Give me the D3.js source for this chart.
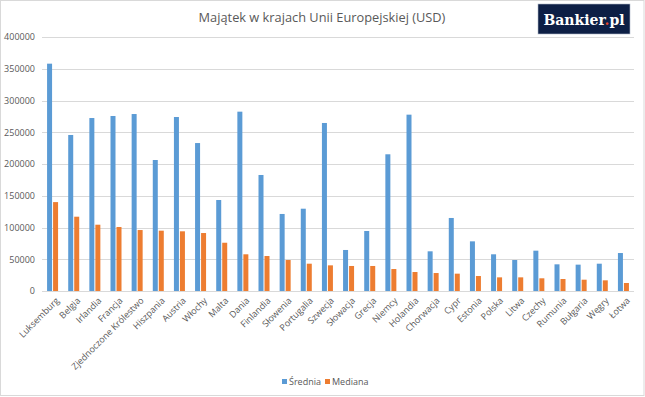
<!DOCTYPE html>
<html>
<head>
<meta charset="utf-8">
<script src="https://cdn.jsdelivr.net/npm/d3@7"></script>
<style>
  body { margin: 0; background: #fff; }
  text { font-family: "Open Sans", "Noto Sans", sans-serif; }
</style>
</head>
<body>
<div id="chart"></div>
<script>
// data
var countries = ["Luksemburg","Belgia","Irlandia","Francja","Zjednoczone Królestwo","Hiszpania","Austria","Włochy","Malta","Dania","Finlandia","Słowenia","Portugalia","Szwecja","Słowacja","Grecja","Niemcy","Holandia","Chorwacja","Cypr","Estonia","Polska","Litwa","Czechy","Rumunia","Bułgaria","Węgry","Łotwa"];
var srednia = [358000,245700,272400,275600,278700,206300,274000,233000,143300,282400,182700,121300,129600,264600,64600,94500,215300,277700,62500,115000,78200,57800,48800,63500,42000,41500,43000,59800];
var mediana = [140000,117000,104400,100800,96000,95000,94000,91300,76000,57800,55100,48800,43000,40400,39400,39400,34600,29900,28300,27300,23600,21500,21500,20000,18900,17800,16800,12600];
var yTicks = [0,50000,100000,150000,200000,250000,300000,350000,400000];
var seriesNames = ["Średnia","Mediana"];
var colors = ["#5b9bd5","#ed7d31"];

var W = 645, H = 397;
var svg = d3.select("#chart").append("svg").attr("width", W).attr("height", H);

// chart border
svg.append("rect").attr("x",0.5).attr("y",0.5).attr("width",W-1.5).attr("height",H-2)
    .attr("fill","#fff").attr("stroke","#d9d9d9");

var pLeft = 42, pRight = 634, pTop = 37, pBottom = 291;

var x = d3.scaleBand().domain(countries).range([pLeft, pRight]).paddingInner(0).paddingOuter(0);
var y = d3.scaleLinear().domain([0, 400000]).range([pBottom, pTop]);

// gridlines
svg.append("g").selectAll("line").data(yTicks).enter().append("line")
    .attr("x1", pLeft).attr("x2", pRight)
    .attr("y1", function(d){ return Math.round(y(d)) + 0.5; })
    .attr("y2", function(d){ return Math.round(y(d)) + 0.5; })
    .attr("stroke", "#d9d9d9").attr("stroke-width", 1);

// y axis labels
var yAxis = d3.axisLeft(y).tickValues(yTicks).tickSize(0).tickPadding(0).tickFormat(d3.format("d"));
var ya = svg.append("g").attr("transform", "translate(35,0)").call(yAxis);
ya.select(".domain").remove();
ya.selectAll("text").attr("fill","#595959").style("font-size","9px");

// bars
var barW = 5;
[srednia, mediana].forEach(function(vals, s){
    svg.append("g").selectAll("rect").data(vals).enter().append("rect")
        .attr("x", function(d,i){ return x(countries[i]) + x.bandwidth()/2 - 5.5 + s*6; })
        .attr("y", function(d){ return y(d); })
        .attr("width", barW)
        .attr("height", function(d){ return pBottom - y(d); })
        .attr("fill", colors[s]);
});

// x axis labels
var xa = svg.append("g").attr("transform", "translate(0," + pBottom + ")")
    .call(d3.axisBottom(x).tickSize(0).tickPadding(0));
xa.select(".domain").remove();
xa.selectAll("text")
    .attr("fill","#595959").style("font-size","9px")
    .attr("text-anchor","end")
    .attr("y", 0).attr("dy", "0.35em")
    .attr("transform","translate(5,8) rotate(-45)");

// title
svg.append("text").attr("x", 322).attr("y", 22).attr("text-anchor","middle")
    .attr("fill","#595959").style("font-size","12.8px")
    .text("Majątek w krajach Unii Europejskiej (USD)");

// logo
svg.append("rect").attr("x",538).attr("y",4).attr("width",92).attr("height",30)
    .attr("fill","#0d1f45").attr("stroke","#b0b8c8").attr("stroke-width",0.6);
var logo = svg.append("text").attr("x",584).attr("y",24.5).attr("text-anchor","middle")
    .style("font-family","'DejaVu Serif', 'Liberation Serif', serif").style("font-weight","bold")
    .style("font-size","14px").attr("fill","#fff");
logo.append("tspan").text("Bankier");
logo.append("tspan").attr("fill","#e8452c").text(".");
logo.append("tspan").text("pl");

// legend
var legend = svg.append("g");
var lx = [282, 325];
seriesNames.forEach(function(n, i){
    legend.append("rect").attr("x", lx[i]).attr("y", 379).attr("width", 5).attr("height", 5).attr("fill", colors[i]);
    legend.append("text").attr("x", lx[i] + 7).attr("y", 384.5).attr("fill","#595959")
        .style("font-size","9px").text(n);
});
</script>
</body>
</html>
